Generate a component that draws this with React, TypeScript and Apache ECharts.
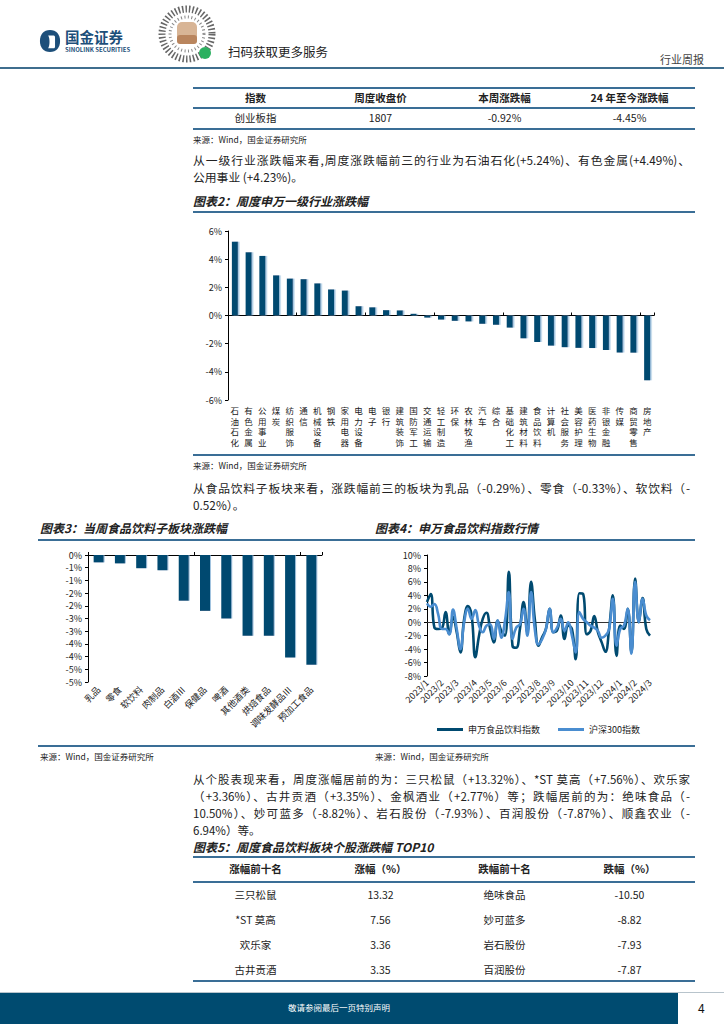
import React, { useEffect, useRef } from 'react';
import * as echarts from 'echarts';

// ---------- Data ----------
const industries = ['石油石化','有色金属','公用事业','煤炭','纺织服饰','通信','机械设备','钢铁','家用电器','电力设备','电子','银行','建筑装饰','国防军工','交通运输','轻工制造','环保','农林牧渔','汽车','综合','基础化工','建筑材料','食品饮料','计算机','社会服务','美容护理','医药生物','非银金融','传媒','商贸零售','房地产'];
const industryChange = [5.24,4.49,4.23,2.85,2.62,2.58,2.28,1.85,1.77,0.66,0.58,0.38,0.36,0.12,-0.15,-0.29,-0.38,-0.42,-0.59,-0.66,-0.86,-1.62,-1.88,-2.14,-2.25,-2.30,-2.31,-2.45,-2.63,-2.64,-4.60];

const subsectors = ['乳品','零食','软饮料','肉制品','白酒Ⅲ','保健品','啤酒','其他酒类','烘焙食品','调味发酵品Ⅲ','预加工食品'];
const subsectorChange = [-0.29,-0.33,-0.52,-0.60,-1.80,-2.20,-2.50,-3.18,-3.18,-4.04,-4.32];

const weeks = ['2023/1/6','2023/1/13','2023/1/20','2023/1/27','2023/2/3','2023/2/10','2023/2/17','2023/2/24','2023/3/3','2023/3/10','2023/3/17','2023/3/24','2023/3/31','2023/4/7','2023/4/14','2023/4/21','2023/4/28','2023/5/5','2023/5/12','2023/5/19','2023/5/26','2023/6/2','2023/6/9','2023/6/16','2023/6/23','2023/6/30','2023/7/7','2023/7/14','2023/7/21','2023/7/28','2023/8/4','2023/8/11','2023/8/18','2023/8/25','2023/9/1','2023/9/8','2023/9/15','2023/9/22','2023/9/29','2023/10/6','2023/10/13','2023/10/20','2023/10/27','2023/11/3','2023/11/10','2023/11/17','2023/11/24','2023/12/1','2023/12/8','2023/12/15','2023/12/22','2023/12/29','2024/1/5','2024/1/12','2024/1/19','2024/1/26','2024/2/2','2024/2/9','2024/2/16','2024/2/23','2024/3/1'];
const foodIndex = [3.0,4.2,-0.8,-1.0,-0.9,1.5,-1.8,0.8,-1.5,-4.5,0.5,2.4,1.0,-5.2,-2.0,0.5,1.4,-1.0,-3.0,0.2,-1.3,-2.0,7.5,-3.5,-3.8,-1.0,3.0,-1.5,6.0,0.5,-3.5,-2.2,-1.0,2.0,-1.5,-1.2,1.0,-2.5,-0.5,-1.0,-5.5,4.3,4.2,-1.8,-1.3,0.9,-1.5,-3.0,-4.4,-1.0,4.0,-5.0,-0.5,-1.0,2.0,-4.5,6.5,0.0,3.6,-1.0,-2.0];
const hs300 = [2.8,2.3,2.7,1.2,-1.0,-1.0,-1.8,1.9,-1.0,-4.0,0.0,2.0,0.5,1.8,-0.5,-1.5,-0.5,-0.3,-2.5,0.3,-2.3,0.3,4.5,-2.5,-0.8,-0.3,2.0,-2.0,4.5,-1.0,-3.3,-2.5,-1.0,2.0,-1.5,-0.8,0.5,-1.3,0.0,-2.0,-4.5,1.5,0.5,0.0,-0.5,-0.8,-1.3,-2.3,-2.0,-1.0,3.5,-3.5,-1.0,-0.5,2.0,-4.7,6.0,0.0,3.5,1.0,0.3];
const seriesNames = ['申万食品饮料指数','沪深300指数'];

const table1Header = ['指数','周度收盘价','本周涨跌幅','24 年至今涨跌幅'];
const table1Row = ['创业板指','1807','-0.92%','-4.45%'];

const table2Header = ['涨幅前十名','涨幅（%）','跌幅前十名','跌幅（%）'];
const gainers = ['三只松鼠','*ST 莫高','欢乐家','古井贡酒'];
const gainValues = ['13.32','7.56','3.36','3.35'];
const losers = ['绝味食品','妙可蓝多','岩石股份','百润股份'];
const lossValues = ['-10.50','-8.82','-7.93','-7.87'];

// ---------- Styles ----------
const FONT = "'Noto Sans CJK SC','Noto Sans',sans-serif";
const DARK = '#004a70';
const LIGHT = '#4a8dd0';
const RULE = '#3a6e96';
const TXT = '#222';

type TP = { x: number; y: number; w?: number; size?: number; bold?: boolean; italic?: boolean; color?: string; align?: any; justify?: boolean; children?: any };
function T({ x, y, w, size = 12, bold, italic, color = TXT, align = 'left', justify, children }: TP) {
  return (
    <div style={{
      position: 'absolute', left: x, top: y - size * 0.65, width: w,
      fontSize: size, lineHeight: `${size * 1.3}px`, fontWeight: bold ? 700 : 400,
      fontStyle: italic ? 'italic' : 'normal', color, textAlign: justify ? 'justify' : align,
      textAlignLast: justify ? 'justify' : undefined, whiteSpace: justify ? 'normal' : 'nowrap',
    } as any}>{children}</div>
  );
}
function Rule({ x, y, w, h = 1.5, color = RULE }: { x: number; y: number; w: number; h?: number; color?: string }) {
  return <div style={{ position: 'absolute', left: x, top: y - h / 2, width: w, height: h, background: color }} />;
}

const pct = (v: number) => `${v}%`;

export default function App() {
  const r1 = useRef<HTMLDivElement>(null);
  const r2 = useRef<HTMLDivElement>(null);
  const r3 = useRef<HTMLDivElement>(null);

  useEffect(() => {
    const axisLbl = { fontSize: 9, color: '#222', fontFamily: FONT };
    const c1 = echarts.init(r1.current!, null, { renderer: 'svg' });
    c1.setOption({
      animation: false,
      grid: { left: 43, top: 16, width: 426, height: 169 },
      xAxis: [
        {
          type: 'category', data: industries, position: 'bottom',
          axisLine: { show: false, onZero: false }, axisTick: { show: false },
          axisLabel: { ...axisLbl, fontSize: 8.5, interval: 0, margin: 5, lineHeight: 10.5, verticalAlign: 'top', formatter: (v: string) => v.split('').join('\n') },
        },
        {
          type: 'category', data: industries, position: 'bottom',
          axisLine: { show: true, onZero: true, lineStyle: { color: '#000', width: 1 } },
          axisTick: { show: true, inside: true, length: 3, lineStyle: { color: '#000' } },
          axisLabel: { show: false },
        },
      ],
      yAxis: {
        type: 'value', min: -6, max: 6, interval: 2,
        axisLine: { show: true, lineStyle: { color: '#000' } },
        axisTick: { show: true, length: 3, lineStyle: { color: '#000' } },
        splitLine: { show: false },
        axisLabel: { ...axisLbl, margin: 6, formatter: pct },
      },
      series: [{
        type: 'bar', data: industryChange, barWidth: 6,
        itemStyle: { color: DARK, shadowColor: 'rgba(120,170,210,0.7)', shadowOffsetX: 1.5, shadowBlur: 0 },
      }],
    });

    const c2 = echarts.init(r2.current!, null, { renderer: 'svg' });
    c2.setOption({
      animation: false,
      grid: { left: 58, top: 10, width: 234, height: 127 },
      xAxis: [
        {
          type: 'category', data: subsectors, position: 'bottom',
          axisLine: { show: false, onZero: false }, axisTick: { show: false },
          axisLabel: { ...axisLbl, interval: 0, rotate: 45, margin: 6 },
        },
        {
          type: 'category', data: subsectors, position: 'top',
          axisLine: { show: true, onZero: true, lineStyle: { color: '#000', width: 1 } },
          axisTick: { show: true, length: 3, lineStyle: { color: '#000' } },
          axisLabel: { show: false },
        },
      ],
      yAxis: {
        type: 'value', min: -5, max: 0, interval: 0.5,
        axisLine: { show: true, lineStyle: { color: '#000' } },
        axisTick: { show: true, length: 3, lineStyle: { color: '#000' } },
        splitLine: { show: false },
        axisLabel: { ...axisLbl, margin: 6, formatter: (v: number) => `${v < 0 ? -Math.round(-v) : Math.round(v)}%` },
      },
      series: [{
        type: 'bar', data: subsectorChange, barWidth: 10,
        itemStyle: { color: DARK, shadowColor: 'rgba(120,170,210,0.7)', shadowOffsetX: 1, shadowBlur: 0 },
      }],
    });

    const monthOf = (s: string) => s.split('/').slice(0, 2).join('/');
    const c3 = echarts.init(r3.current!, null, { renderer: 'svg' });
    c3.setOption({
      animation: false,
      grid: { left: 57, top: 10, width: 223, height: 121 },
      legend: {
        data: seriesNames, bottom: 4, left: 62, icon: 'rect', itemWidth: 26, itemHeight: 3, itemGap: 18,
        textStyle: { fontSize: 9, color: '#222', fontFamily: FONT },
      },
      xAxis: [
        {
          type: 'category', data: weeks, boundaryGap: false, position: 'bottom',
          axisLine: { show: false, onZero: false }, axisTick: { show: false },
          axisLabel: {
            ...axisLbl, rotate: 45, margin: 5,
            interval: (i: number, v: string) => i === 0 || monthOf(v) !== monthOf(weeks[i - 1]),
            formatter: (v: string) => monthOf(v),
          },
        },
        {
          type: 'category', data: weeks, boundaryGap: false, position: 'bottom',
          axisLine: { show: true, onZero: true, lineStyle: { color: '#333', width: 1 } },
          axisTick: { show: false }, axisLabel: { show: false },
        },
      ],
      yAxis: {
        type: 'value', min: -8, max: 10, interval: 2,
        axisLine: { show: true, lineStyle: { color: '#000' } },
        axisTick: { show: true, length: 3, lineStyle: { color: '#000' } },
        splitLine: { show: false },
        axisLabel: { ...axisLbl, margin: 6, formatter: pct },
      },
      series: [
        { name: seriesNames[0], type: 'line', data: foodIndex, smooth: 0.45, symbol: 'none', lineStyle: { color: DARK, width: 2.6 }, itemStyle: { color: DARK } },
        { name: seriesNames[1], type: 'line', data: hs300, smooth: 0.45, symbol: 'none', lineStyle: { color: LIGHT, width: 2.6 }, itemStyle: { color: LIGHT } },
      ],
    });

    return () => { c1.dispose(); c2.dispose(); c3.dispose(); };
  }, []);

  const colCenters = [193, 318, 442, 567];
  const colW = 125;

  return (
    <div style={{ position: 'relative', width: 724, height: 1024, overflow: 'hidden', background: '#fff', fontFamily: FONT, color: TXT }}>
      <style>{'body{margin:0;}'}</style>

      {/* Header */}
      <svg style={{ position: 'absolute', left: 39, top: 29 }} width={22} height={24} viewBox="0 0 24 26">
        <path d="M12 1 C5 1 1 6 1 13 C1 20 5 25 12 25 C19 25 23 20 23 13 C23 6 19 1 12 1 Z" fill="#1d4f7a" />
        <path d="M10 7 L16 7 C17 7 17.5 8 17.5 9 L17.5 19 C17.5 20 17 21 16 21 L10 21 C12 18 12 10 10 7 Z" fill="#fff" />
      </svg>
      <T x={65} y={37} size={14.5} bold color="#1d4f7a">国金证券</T>
      <T x={65} y={49.5} size={6} bold color="#1d4f7a">SINOLINK SECURITIES</T>
      <svg style={{ position: 'absolute', left: 158, top: 5 }} width={60} height={60} viewBox="0 0 60 60">
        <circle cx={29} cy={29} r={25} fill="#fff" stroke="#666" strokeWidth={7} strokeDasharray="1.5 2" />
        <circle cx={29} cy={29} r={17} fill="#fff" stroke="#888" strokeWidth={3} strokeDasharray="1 2.5" />
        <rect x={19} y={17} width={20} height={22} rx={5} fill="#d8b596" />
        <rect x={19} y={30} width={20} height={9} rx={3} fill="#b9855e" />
        <circle cx={47} cy={48} r={6} fill="#2bb060" />
      </svg>
      <T x={228} y={52} size={12.5}>扫码获取更多服务</T>
      <T x={660} y={59} size={11} color="#444">行业周报</T>
      <Rule x={0} y={68} w={724} h={2} color="#3f6e8e" />

      {/* Table 1 */}
      <Rule x={193} y={88} w={502} h={2} />
      {table1Header.map((h, i) => <T key={'h1' + i} x={colCenters[i]} w={colW} y={98} size={10.5} bold align="center">{h}</T>)}
      <Rule x={193} y={108} w={502} h={1.5} />
      {table1Row.map((h, i) => <T key={'r1' + i} x={colCenters[i]} w={colW} y={118} size={10.5} align="center">{h}</T>)}
      <Rule x={193} y={129} w={502} h={1.5} />
      <T x={193} y={140} size={8.5}>来源：Wind，国金证券研究所</T>

      <T x={193} y={160} w={497} size={11.8} justify>从一级行业涨跌幅来看,周度涨跌幅前三的行业为石油石化(+5.24%)、有色金属(+4.49%)、</T>
      <T x={193} y={177} size={11.8}>公用事业 (+4.23%)。</T>

      {/* Figure 2 */}
      <T x={193} y={201} size={12} bold italic>图表2：周度申万一级行业涨跌幅</T>
      <Rule x={193} y={212} w={502} h={2} />
      <div ref={r1} style={{ position: 'absolute', left: 185, top: 215, width: 520, height: 237 }} />
      <Rule x={193} y={455} w={502} h={2} />
      <T x={193} y={466} size={8.5}>来源：Wind，国金证券研究所</T>

      <T x={193} y={488} w={497} size={11.8} justify>从食品饮料子板块来看，涨跌幅前三的板块为乳品（-0.29%）、零食（-0.33%）、软饮料（-</T>
      <T x={193} y={505} size={11.8}>0.52%）。</T>

      {/* Figures 3 & 4 */}
      <T x={40} y={528} size={12} bold italic>图表3：当周食品饮料子板块涨跌幅</T>
      <T x={375} y={528} size={12} bold italic>图表4：申万食品饮料指数行情</T>
      <Rule x={38} y={540} w={657} h={2} />
      <div ref={r2} style={{ position: 'absolute', left: 30, top: 545, width: 330, height: 198 }} />
      <div ref={r3} style={{ position: 'absolute', left: 370, top: 545, width: 330, height: 198 }} />
      <Rule x={38} y={746} w={657} h={2} />
      <T x={40} y={757} size={8.5}>来源：Wind，国金证券研究所</T>
      <T x={375} y={757} size={8.5}>来源：Wind，国金证券研究所</T>

      <T x={193} y={779} w={497} size={11.5} justify>从个股表现来看，周度涨幅居前的为：三只松鼠（+13.32%）、*ST 莫高（+7.56%）、欢乐家</T>
      <T x={193} y={796} w={497} size={11.5} justify>（+3.36%）、古井贡酒（+3.35%）、金枫酒业（+2.77%）等；跌幅居前的为：绝味食品（-</T>
      <T x={193} y={813} w={497} size={11.5} justify>10.50%）、妙可蓝多（-8.82%）、岩石股份（-7.93%）、百润股份（-7.87%）、顺鑫农业（-</T>
      <T x={193} y={830} size={11.5}>6.94%）等。</T>

      {/* Table 5 */}
      <T x={193} y={847} size={12} bold italic>图表5：周度食品饮料板块个股涨跌幅 TOP10</T>
      <Rule x={193} y={857} w={502} h={2} />
      {table2Header.map((h, i) => <T key={'h2' + i} x={colCenters[i]} w={colW} y={869} size={10.5} bold align="center">{h}</T>)}
      <Rule x={193} y={882} w={502} h={1.5} />
      {gainers.map((g, r) => (
        <React.Fragment key={'row' + r}>
          <T x={colCenters[0]} w={colW} y={895 + r * 25} size={10.5} align="center">{g}</T>
          <T x={colCenters[1]} w={colW} y={895 + r * 25} size={10.5} align="center">{gainValues[r]}</T>
          <T x={colCenters[2]} w={colW} y={895 + r * 25} size={10.5} align="center">{losers[r]}</T>
          <T x={colCenters[3]} w={colW} y={895 + r * 25} size={10.5} align="center">{lossValues[r]}</T>
        </React.Fragment>
      ))}
      <Rule x={193} y={981} w={502} h={1.5} />

      {/* Footer */}
      <Rule x={0} y={992} w={724} h={1} color="#b8c4cc" />
      <div style={{ position: 'absolute', left: 0, top: 993, width: 678, height: 31, background: '#004b70' }} />
      <T x={0} w={678} y={1008} size={8.5} color="#fff" align="center">敬请参阅最后一页特别声明</T>
      <T x={698} y={1008} size={12} color="#111">4</T>
    </div>
  );
}
